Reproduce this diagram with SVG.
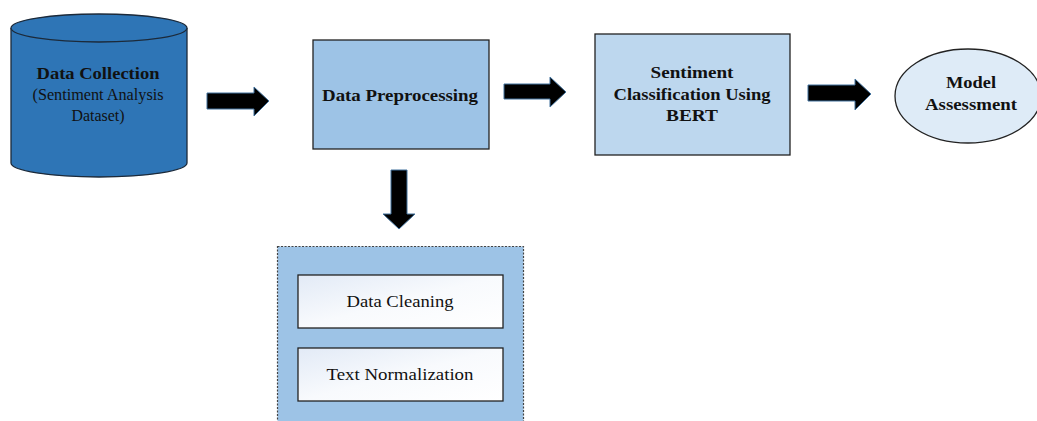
<svg xmlns="http://www.w3.org/2000/svg" width="1037" height="421" viewBox="0 0 1037 421">
<style>
.b{font-family:"Liberation Serif","Times New Roman",serif;font-weight:bold;font-size:16.5px;fill:#111;text-anchor:middle}
.r{font-family:"Liberation Serif","Times New Roman",serif;font-size:16.5px;fill:#111;text-anchor:middle}
.arr{fill:#000;stroke:#41719c;stroke-width:1}
.box{stroke:#222;stroke-width:1.3}
</style>
<defs>
<linearGradient id="g" x1="0" y1="0" x2="1" y2="1">
<stop offset="0" stop-color="#e2eaf6"/>
<stop offset="0.5" stop-color="#f8fafd"/>
<stop offset="1" stop-color="#ffffff"/>
</linearGradient>
</defs>
<rect width="1037" height="421" fill="#fff"/>
<g id="data-collection">
<path d="M11,28 L11,163 A88,14 0 0 0 187,163 L187,28" fill="#2e75b6" stroke="#1c2a3a" stroke-width="1.3"/>
<ellipse cx="99" cy="28" rx="88" ry="14" fill="#2e75b6" stroke="#1c2a3a" stroke-width="1.3"/>
<text class="b" x="98" y="79" textLength="123" lengthAdjust="spacingAndGlyphs">Data Collection</text>
<text class="r" x="98" y="100" textLength="131" lengthAdjust="spacingAndGlyphs">(Sentiment Analysis</text>
<text class="r" x="98" y="121" textLength="53" lengthAdjust="spacingAndGlyphs">Dataset)</text>
</g>
<g id="data-preprocessing">
<rect class="box" x="313" y="40" width="176" height="109" fill="#9dc3e6"/>
<text class="b" x="400" y="101" textLength="156" lengthAdjust="spacingAndGlyphs">Data Preprocessing</text>
</g>
<g id="sentiment-classification">
<rect class="box" x="595" y="34" width="195" height="121" fill="#bdd7ee"/>
<text class="b" x="692" y="78" textLength="83" lengthAdjust="spacingAndGlyphs">Sentiment</text>
<text class="b" x="692" y="100" textLength="157" lengthAdjust="spacingAndGlyphs">Classification Using</text>
<text class="b" x="692" y="121" textLength="52" lengthAdjust="spacingAndGlyphs">BERT</text>
</g>
<g id="model-assessment">
<ellipse cx="968" cy="96" rx="73" ry="47" fill="#deebf7" stroke="#222" stroke-width="1.3"/>
<text class="b" x="971" y="88" textLength="50" lengthAdjust="spacingAndGlyphs">Model</text>
<text class="b" x="971" y="110" textLength="92" lengthAdjust="spacingAndGlyphs">Assessment</text>
</g>
<g id="preprocessing-steps">
<rect x="277.5" y="246.5" width="246" height="180" fill="#9dc3e6" stroke="#444" stroke-width="1.2" stroke-dasharray="2,1.5"/>
<g id="data-cleaning">
<rect class="box" x="298" y="275" width="205" height="53" fill="url(#g)"/>
<text class="r" x="400" y="307" textLength="107" lengthAdjust="spacingAndGlyphs">Data Cleaning</text>
</g>
<g id="text-normalization">
<rect class="box" x="298" y="348" width="205" height="53" fill="url(#g)"/>
<text class="r" x="400" y="380" textLength="147" lengthAdjust="spacingAndGlyphs">Text Normalization</text>
</g>
</g>
<g id="connectors">
<polygon class="arr" points="207,93 254,93 254,87 269,101 254,116 254,109 207,109"/>
<polygon class="arr" points="504,84 550,84 550,77 566,92 550,107 550,99 504,99"/>
<polygon class="arr" points="808,85 855,85 855,79 871,94 855,110 855,101 808,101"/>
<polygon class="arr" points="391,170 407,170 407,214 415,214 399,229 383,214 391,214"/>
</g>
</svg>
